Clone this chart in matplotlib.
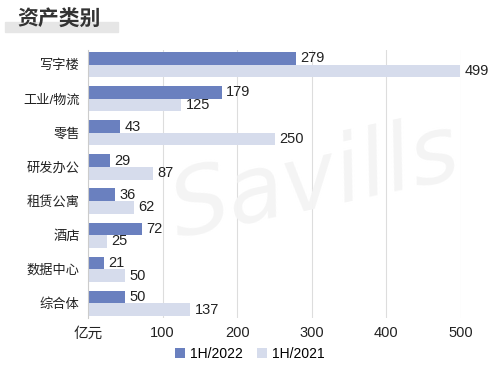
import matplotlib.pyplot as plt
import numpy as np

plt.rcParams['font.family'] = ['Liberation Sans', 'Noto Sans CJK SC', 'DejaVu Sans']

categories = ["写字楼", "工业/物流", "零售", "研发办公", "租赁公寓", "酒店", "数据中心", "综合体"]
h1_2022 = [279, 179, 43, 29, 36, 72, 21, 50]
h1_2021 = [499, 125, 250, 87, 62, 25, 50, 137]
xticks = [0, 100, 200, 300, 400, 500]
xticklabels = ["亿元", "100", "200", "300", "400", "500"]

dark = "#6a80bf"
light = "#d6dcec"

fig = plt.figure(figsize=(5, 3.79), dpi=100)
ax = fig.add_axes([0.176, 0.161, 0.746, 0.707])

y = np.arange(len(categories))
bh = 0.37
b1 = ax.barh(y - bh / 2, h1_2022, height=bh, color=dark, label="1H/2022")
b2 = ax.barh(y + bh / 2, h1_2021, height=bh, color=light, label="1H/2021")

for bars in (b1, b2):
    for rect in bars:
        v = rect.get_width()
        ax.text(v + 6, rect.get_y() + rect.get_height() / 2, str(int(v)),
                va="center", ha="left", fontsize=10.5, color="#222222")

ax.set_ylim(len(categories) - 0.57, -0.43)
ax.set_xlim(0, 500)
ax.set_yticks(y)
ax.set_yticklabels(categories, fontsize=9.5, color="#222222")
ax.set_xticks(xticks)
ax.set_xticklabels(xticklabels, fontsize=10.5, color="#222222")
ax.tick_params(length=0, pad=6)
ax.grid(axis="x", color="#dddddd", linewidth=0.8)
ax.set_axisbelow(True)
for s in ["top", "right", "bottom"]:
    ax.spines[s].set_visible(False)
ax.spines["left"].set_color("#cccccc")

# watermark
fig.text(0.63, 0.52, "Savills", fontsize=66, color="#f4f4f4", rotation=12,
         style="italic", ha="center", va="center", zorder=0, family="DejaVu Sans")

# title with highlight band
fig.patches.append(plt.Rectangle((0.01, 0.915), 0.225, 0.028, transform=fig.transFigure,
                                 color="#e6e6e6", zorder=0))
fig.text(0.034, 0.948, "资产类别", fontsize=15, fontweight="bold", color="#333333",
         va="center", ha="left", family="Noto Sans CJK SC")

fig.legend(handles=[b1, b2], loc="center", bbox_to_anchor=(0.5, 0.066), ncol=2,
           frameon=False, fontsize=10, handlelength=0.7, handleheight=0.7,
           columnspacing=1.0, handletextpad=0.4)

fig.savefig("out.png", dpi=100)
